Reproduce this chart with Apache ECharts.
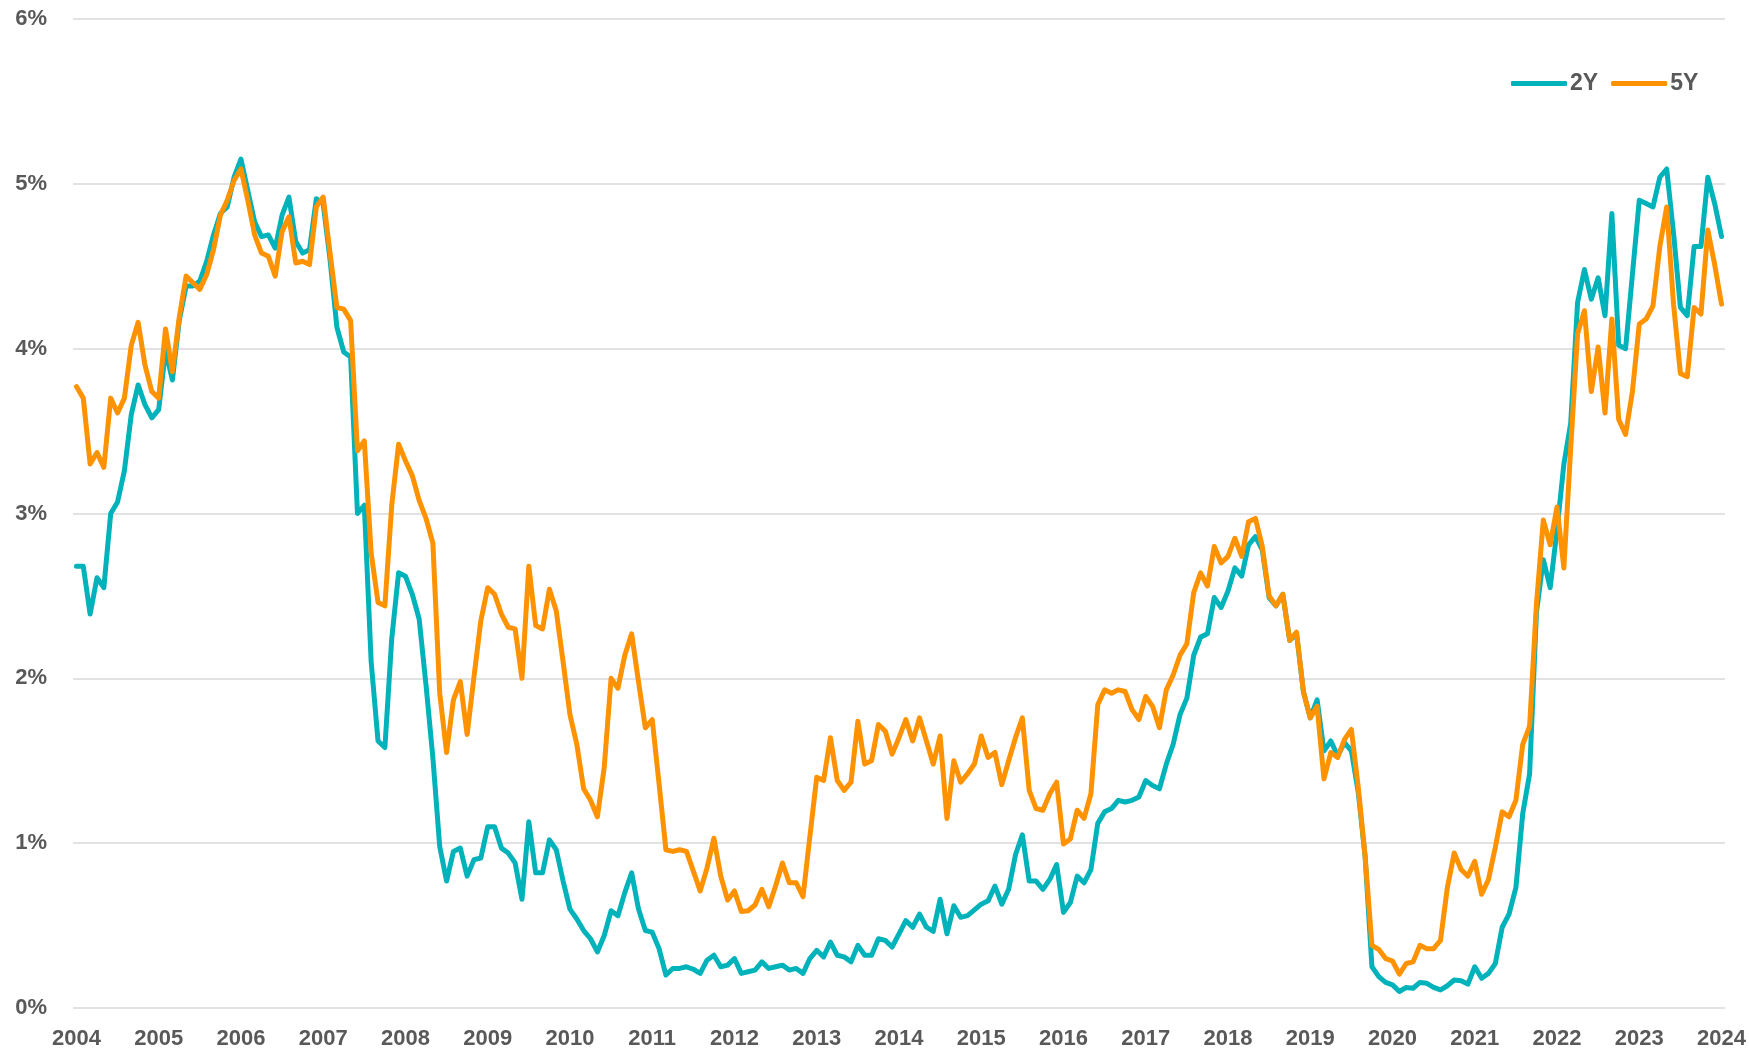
<!DOCTYPE html>
<html lang="en">
<head>
    <meta charset="UTF-8">
    <title>2Y / 5Y</title>
    <script src="https://cdn.jsdelivr.net/npm/echarts@6/dist/echarts.min.js"></script>
    <style>
        html, body {margin: 0;padding: 0;background: #ffffff;}
    </style>
</head>
<body>
<div class="main" style="width: 1749px;height:1052px;"></div>
</body>
<script>
    // tick labels on the x axis, one every 12 months
    let years = ['2004','2005','2006','2007','2008','2009','2010','2011','2012','2013','2014',
        '2015','2016','2017','2018','2019','2020','2021','2022','2023','2024'];
    let yTicks = [0, 1, 2, 3, 4, 5, 6];

    // monthly yields, %, one row per year
    let y2 = [
        2.68,2.68,2.39,2.61,2.55,3.00,3.07,3.26,3.60,3.78,3.66,3.58,
        3.63,3.99,3.81,4.17,4.38,4.38,4.41,4.53,4.69,4.82,4.86,5.04,
        5.15,4.96,4.77,4.68,4.69,4.61,4.81,4.92,4.65,4.58,4.60,4.91,
        4.88,4.54,4.13,3.98,3.95,3.00,3.05,2.10,1.62,1.58,2.24,2.64,
        2.62,2.51,2.36,1.96,1.52,0.98,0.77,0.95,0.97,0.80,0.90,0.91,
        1.10,1.10,0.97,0.94,0.88,0.66,1.13,0.82,0.82,1.02,0.96,0.77,
        0.60,0.54,0.47,0.42,0.34,0.44,0.59,0.56,0.70,0.82,0.60,0.47,
        0.46,0.36,0.20,0.24,0.24,0.25,0.235,0.21,0.29,0.32,0.25,0.26,
        0.30,0.21,0.22,0.23,0.28,0.24,0.25,0.26,0.23,0.24,0.21,0.30,
        0.35,0.31,0.40,0.32,0.31,0.28,0.38,0.32,0.32,0.42,0.41,0.37,
        0.45,0.53,0.49,0.57,0.49,0.465,0.66,0.45,0.62,0.55,0.56,0.595,
        0.63,0.65,0.74,0.63,0.72,0.93,1.05,0.77,0.77,0.72,0.78,0.87,
        0.58,0.64,0.80,0.76,0.84,1.12,1.19,1.21,1.26,1.25,1.26,1.28,
        1.38,1.35,1.33,1.48,1.60,1.78,1.88,2.14,2.25,2.27,2.49,2.43,
        2.53,2.67,2.62,2.81,2.86,2.78,2.49,2.44,2.51,2.23,2.27,1.92,
        1.76,1.87,1.56,1.62,1.53,1.61,1.56,1.31,0.92,0.25,0.19,0.155,
        0.14,0.10,0.125,0.12,0.155,0.15,0.125,0.11,0.135,0.17,0.165,0.145,
        0.25,0.18,0.21,0.27,0.49,0.57,0.73,1.18,1.42,2.40,2.72,2.55,
        2.90,3.30,3.55,4.28,4.48,4.30,4.43,4.20,4.82,4.02,4.00,4.45,
        4.90,4.88,4.86,5.04,5.09,4.70,4.25,4.20,4.62,4.62,5.04,4.88,
        4.68
    ];
    let y5 = [
        3.77,3.70,3.30,3.37,3.28,3.70,3.61,3.70,4.02,4.16,3.90,3.74,
        3.70,4.12,3.86,4.19,4.44,4.40,4.36,4.45,4.60,4.81,4.90,5.02,
        5.09,4.90,4.69,4.58,4.56,4.44,4.71,4.80,4.52,4.53,4.51,4.86,
        4.92,4.58,4.25,4.24,4.17,3.38,3.44,2.76,2.46,2.44,3.05,3.42,
        3.32,3.23,3.08,2.97,2.82,1.91,1.55,1.87,1.98,1.66,2.01,2.35,
        2.55,2.51,2.39,2.31,2.30,2.00,2.68,2.32,2.30,2.54,2.41,2.10,
        1.78,1.60,1.33,1.26,1.16,1.46,2.00,1.94,2.14,2.27,1.98,1.70,
        1.75,1.36,0.96,0.95,0.96,0.95,0.83,0.71,0.85,1.03,0.80,0.655,
        0.71,0.585,0.59,0.625,0.72,0.615,0.74,0.88,0.76,0.76,0.675,1.04,
        1.40,1.38,1.64,1.38,1.32,1.37,1.74,1.48,1.50,1.72,1.68,1.54,
        1.64,1.75,1.62,1.76,1.62,1.48,1.65,1.15,1.50,1.37,1.42,1.48,
        1.65,1.52,1.55,1.355,1.50,1.64,1.76,1.32,1.21,1.20,1.30,1.37,
        0.995,1.025,1.20,1.15,1.30,1.84,1.93,1.91,1.93,1.92,1.81,1.75,
        1.89,1.83,1.70,1.93,2.02,2.14,2.21,2.52,2.64,2.56,2.80,2.70,
        2.74,2.85,2.74,2.95,2.97,2.80,2.50,2.44,2.51,2.23,2.28,1.92,
        1.76,1.83,1.39,1.55,1.52,1.63,1.69,1.34,0.92,0.38,0.355,0.30,
        0.285,0.205,0.27,0.28,0.38,0.36,0.36,0.41,0.73,0.94,0.84,0.80,
        0.89,0.69,0.78,0.975,1.19,1.16,1.26,1.60,1.71,2.45,2.96,2.81,
        3.04,2.67,3.40,4.09,4.23,3.74,4.01,3.61,4.18,3.57,3.48,3.74,
        4.15,4.18,4.26,4.62,4.86,4.27,3.85,3.83,4.25,4.21,4.72,4.51,
        4.27
    ];

    // one category per month, label shows the year on every 12th
    let months = [];
    for (let i = 0; i < y2.length; i++) {
        let yr = years[Math.floor(i / 12)];
        let m = (i % 12) + 1;
        months.push(yr + '-' + (m < 10 ? '0' + m : m));
    }

    let labelColor = '#595959';
    let myChart = echarts.init(document.querySelector('.main'));
    let option = {
        animation: false,
        backgroundColor: '#ffffff',
        grid: {left: 73, right: 24, top: 19, bottom: 44, containLabel: false},
        legend: {
            data: ['2Y', '5Y'],
            left: 1511,
            top: 72,
            icon: 'roundRect',
            itemWidth: 56,
            itemHeight: 5,
            itemGap: 13,
            padding: 0,
            textStyle: {
                color: labelColor,
                fontSize: 23,
                fontWeight: 'bold',
                fontFamily: 'Liberation Sans',
                padding: [0, 0, 0, -2]
            }
        },
        xAxis: {
            type: 'category',
            data: months,
            boundaryGap: true,
            axisLine: {show: false},
            axisTick: {show: false},
            axisLabel: {
                interval: 11,
                margin: 20,
                color: labelColor,
                fontSize: 22,
                fontWeight: 'bold',
                fontFamily: 'Liberation Sans',
                formatter: function (v) {
                    return v.slice(0, 4);
                }
            },
            splitLine: {show: false}
        },
        yAxis: {
            type: 'value',
            min: yTicks[0],
            max: yTicks[yTicks.length - 1],
            interval: 1,
            axisLine: {show: false},
            axisTick: {show: false},
            axisLabel: {
                margin: 26,
                color: labelColor,
                fontSize: 22,
                fontWeight: 'bold',
                fontFamily: 'Liberation Sans',
                formatter: '{value}%'
            },
            splitLine: {
                lineStyle: {color: '#d9d9d9', width: 1.5}
            }
        },
        series: [
            {
                name: '2Y',
                type: 'line',
                data: y2,
                symbol: 'none',
                color: '#00B2BA',
                lineStyle: {width: 5, color: '#00B2BA', join: 'round', cap: 'round'}
            },
            {
                name: '5Y',
                type: 'line',
                data: y5,
                symbol: 'none',
                color: '#FF9200',
                lineStyle: {width: 5, color: '#FF9200', join: 'round', cap: 'round'}
            }
        ]
    };
    myChart.setOption(option);
</script>
</html>
